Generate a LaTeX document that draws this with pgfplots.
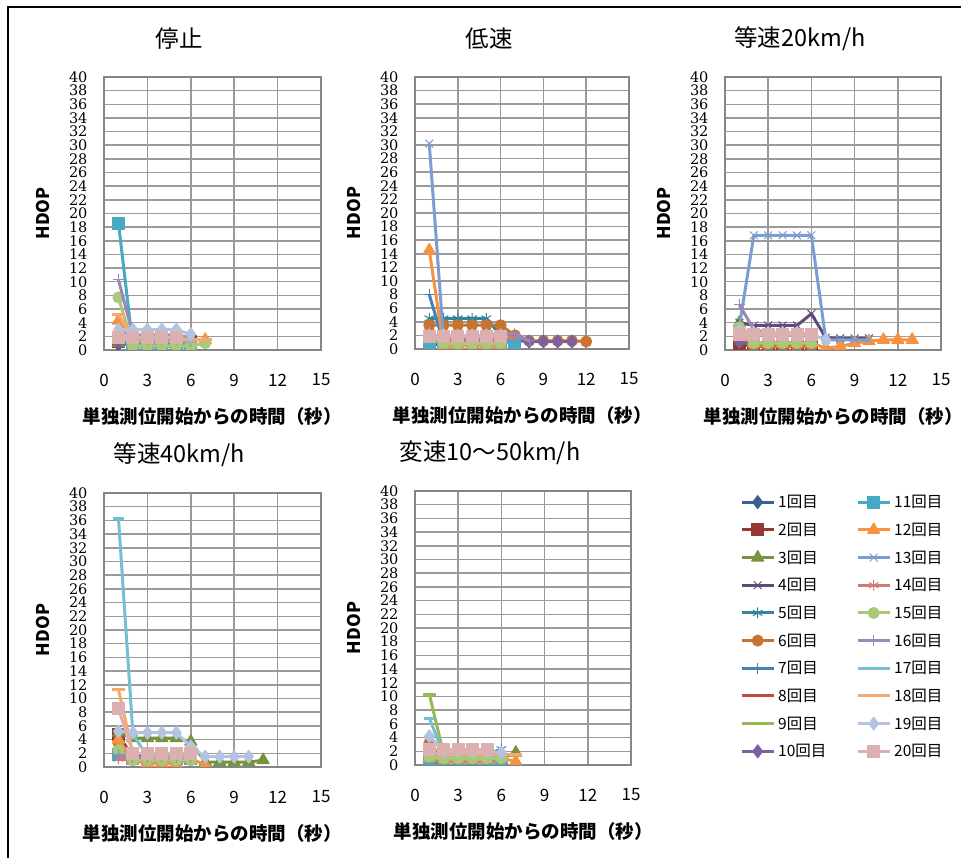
\documentclass[border=0pt]{standalone}
\usepackage{pgfplots}
\pgfplotsset{compat=1.18}
\usepackage{fontspec}
\setmainfont{Noto Sans CJK JP}
\newfontfamily\numserif{DejaVu Serif}
\definecolor{c1}{HTML}{3B5F91}
\definecolor{c2}{HTML}{953735}
\definecolor{c3}{HTML}{77933C}
\definecolor{c4}{HTML}{604A7B}
\definecolor{c5}{HTML}{31859C}
\definecolor{c6}{HTML}{C8732F}
\definecolor{c7}{HTML}{4A7EBB}
\definecolor{c8}{HTML}{BE4B48}
\definecolor{c9}{HTML}{98B954}
\definecolor{c10}{HTML}{7D60A0}
\definecolor{c11}{HTML}{46AAC5}
\definecolor{c12}{HTML}{F69240}
\definecolor{c13}{HTML}{7C9DD1}
\definecolor{c14}{HTML}{D17A78}
\definecolor{c15}{HTML}{A9C878}
\definecolor{c16}{HTML}{9A88B6}
\definecolor{c17}{HTML}{75BFD4}
\definecolor{c18}{HTML}{F9A86D}
\definecolor{c19}{HTML}{B3C3E0}
\definecolor{c20}{HTML}{DDB0B0}
\definecolor{gridc}{HTML}{9A9A9A}
\definecolor{framec}{HTML}{858585}
\pgfplotsset{
  base/.style={line width=3pt, line join=round, mark options={solid, line width=1pt}},
  s1/.style={base, color=c1, mark=diamond*, mark size=6.5pt},
  s2/.style={base, color=c2, mark=square*, mark size=6pt},
  s3/.style={base, color=c3, mark=triangle*, mark size=7pt},
  s4/.style={base, color=c4, mark=x, mark size=5.5pt},
  s5/.style={base, color=c5, mark=asterisk, mark size=5.5pt},
  s6/.style={base, color=c6, mark=*, mark size=5.5pt},
  s7/.style={base, color=c7, mark=+, mark size=5.5pt},
  s8/.style={base, color=c8, mark=-, mark size=5.5pt, mark options={solid, line width=3pt}},
  s9/.style={base, color=c9, mark=-, mark size=6.5pt, mark options={solid, line width=3pt}},
  s10/.style={base, color=c10, mark=diamond*, mark size=6.5pt},
  s11/.style={base, color=c11, mark=square*, mark size=6pt},
  s12/.style={base, color=c12, mark=triangle*, mark size=7pt},
  s13/.style={base, color=c13, mark=x, mark size=5.5pt},
  s14/.style={base, color=c14, mark=asterisk, mark size=5.5pt},
  s15/.style={base, color=c15, mark=*, mark size=5.5pt},
  s16/.style={base, color=c16, mark=+, mark size=5.5pt},
  s17/.style={base, color=c17, mark=-, mark size=5.5pt, mark options={solid, line width=3pt}},
  s18/.style={base, color=c18, mark=-, mark size=6.5pt, mark options={solid, line width=3pt}},
  s19/.style={base, color=c19, mark=diamond*, mark size=6.5pt},
  s20/.style={base, color=c20, mark=square*, mark size=6pt},
  panel/.style={
    scale only axis, anchor=south west,
    xmin=0, xmax=15, ymin=0, ymax=40,
    xtick={0,3,6,9,12,15}, ytick={0,2,...,40},
    grid=major, major grid style={draw=gridc, line width=1.5pt},
    axis line style={draw=framec, line width=1.9pt},
    tick style={draw=none},
    /pgf/number format/assume math mode=true,
    yticklabel style={font=\numserif\fontsize{14.5}{14.5}\selectfont, xshift=-13pt},
    xticklabel style={font=\fontsize{17}{17}\selectfont, anchor=center, yshift=-30pt},
    title style={at={(axis description cs:0.347,1)}, anchor=center, yshift=32pt, font=\fontsize{23.5}{23.5}\selectfont},
    xlabel={単独測位開始からの時間（秒）},
    xlabel style={at={(axis description cs:0.5,0)}, anchor=center, yshift=-66pt, font=\bfseries\fontsize{18.5}{18.5}\selectfont},
    ylabel={HDOP},
    ylabel style={at={(axis description cs:-0.283,0.5)}, anchor=center, font=\bfseries\fontsize{17.5}{17.5}\selectfont},
    clip marker paths=true,
  },
  legax/.style={
    hide axis, scale only axis, width=10pt, height=10pt, anchor=south west,
    xmin=0, xmax=1, ymin=0, ymax=1,
    legend style={at={(axis description cs:0,0)}, anchor=north west, draw=none, fill=none,
      inner sep=0pt, column sep=3pt, row sep=13.8pt, font=\fontsize{15.5}{15.5}\selectfont,
      nodes={inner sep=0pt}},
    legend cell align=left,
    legend image code/.code={\draw[mark repeat=2, mark phase=2] plot coordinates {(0pt,0pt) (16pt,0pt) (32pt,0pt)};},
  },
}
\begin{document}
\begin{tikzpicture}
\path[use as bounding box] (0pt,0pt) rectangle (961pt,858pt);
\draw[line width=1.5pt] (8pt,0pt) -- (8pt,851pt) -- (961pt,851pt);

% ---------- Panel 1: 停止 ----------
\begin{axis}[panel, at={(104pt,508pt)}, width=217pt, height=273pt, title={停止}]
\addplot[s1] coordinates {(1,0.8)(2,1)(3,1)(4,1)(5,1)(6,1)};
\addplot[s2] coordinates {(1,1.3)(2,1.3)(3,1.3)(4,1.3)(5,1.3)(6,1.3)};
\addplot[s3] coordinates {(1,1.0)(2,0.8)(3,0.8)(4,0.8)(5,0.8)(6,0.8)};
\addplot[s4] coordinates {(1,3.6)(2,1.5)(3,1.5)(4,1.5)(5,1.5)(6,1.5)};
\addplot[s5] coordinates {(1,1.2)(2,0.8)(3,0.8)(4,0.8)(5,0.8)(6,0.8)};
\addplot[s6] coordinates {(1,1.5)(2,1.2)(3,1.2)(4,1.2)(5,1.2)(6,1.2)};
\addplot[s7] coordinates {(1,1.0)(2,1.0)(3,1.0)(4,1.0)(5,1.0)(6,1.0)};
\addplot[s8] coordinates {(1,1.5)(2,1.5)(3,1.5)(4,1.5)(5,1.5)(6,1.5)};
\addplot[s9] coordinates {(1,1.2)(2,1.2)(3,1.2)(4,1.2)(5,1.2)(6,1.2)};
\addplot[s10] coordinates {(1,1.2)(2,1.2)(3,1.2)(4,1.2)(5,1.2)(6,1.2)};
\addplot[s11] coordinates {(1,18.6)(2,0.5)(3,0.5)(4,0.5)(5,0.5)(6,0.5)};
\addplot[s12] coordinates {(1,4.3)(2,1.5)(3,1.5)(4,1.5)(5,1.5)(6,1.5)(7,1.5)};
\addplot[s13] coordinates {(1,2.5)(2,2.2)(3,2.2)(4,2.2)(5,2.2)(6,1.8)};
\addplot[s14] coordinates {(1,2.0)(2,1.2)(3,1.2)(4,1.2)(5,1.2)(6,1.2)};
\addplot[s15] coordinates {(1,7.7)(2,0.6)(3,0.6)(4,0.6)(5,0.6)(6,0.6)(7,1.0)};
\addplot[s16] coordinates {(1,10.3)(2,2.2)(3,1.5)(4,1.5)(5,1.5)(6,1.3)};
\addplot[s17] coordinates {(1,1.5)(2,1.3)(3,1.3)(4,1.3)(5,1.3)(6,1.3)};
\addplot[s18] coordinates {(1,5.2)(2,1.8)(3,1.8)(4,1.8)(5,1.8)(6,1.5)(7,1.5)};
\addplot[s19] coordinates {(1,3.0)(2,3.0)(3,3.0)(4,3.0)(5,3.0)(6,2.3)};
\addplot[s20] coordinates {(1,1.8)(2,1.8)(3,1.8)(4,1.8)(5,1.8)};
\end{axis}

% ---------- Panel 2: 低速 ----------
\begin{axis}[panel, at={(415pt,509pt)}, width=214pt, height=272pt, title={低速}]
\addplot[s1] coordinates {(1,0.3)(2,1.0)(3,1.0)(4,1.0)(5,1.0)(6,1.0)};
\addplot[s2] coordinates {(1,1.3)(2,1.3)(3,1.3)(4,1.3)(5,1.3)(6,1.3)};
\addplot[s3] coordinates {(1,1.5)(2,1.0)(3,1.0)(4,1.0)(5,1.0)(6,1.0)};
\addplot[s4] coordinates {(1,2.0)(2,1.5)(3,1.5)(4,1.5)(5,1.5)(6,1.5)};
\addplot[s5] coordinates {(1,4.5)(2,4.5)(3,4.5)(4,4.5)(5,4.5)(6,2.0)(7,1.0)};
\addplot[s6] coordinates {(1,3.5)(2,3.5)(3,3.5)(4,3.5)(5,3.5)(6,3.5)(7,2.0)(8,1.2)(9,1.2)(10,1.2)(11,1.2)(12,1.1)};
\addplot[s7] coordinates {(1,8.0)(2,1.0)(3,1.0)(4,1.0)(5,1.0)(6,1.0)};
\addplot[s8] coordinates {(1,1.2)(2,1.2)(3,1.2)(4,1.2)(5,1.2)(6,1.2)};
\addplot[s9] coordinates {(1,1.4)(2,1.4)(3,1.4)(4,1.4)(5,1.4)(6,1.4)};
\addplot[s10] coordinates {(1,1.2)(2,1.2)(3,1.2)(4,1.2)(5,1.2)(6,1.2)(7,1.2)(8,1.1)(9,1.1)(10,1.1)(11,1.1)};
\addplot[s11] coordinates {(1,1.0)(2,1.0)(3,1.0)(4,1.0)(5,1.0)(6,1.0)(7,1.0)};
\addplot[s12] coordinates {(1,14.5)(2,0.5)(3,0.5)(4,0.5)(5,0.5)(6,0.5)};
\addplot[s13] coordinates {(1,30.2)(2,1.5)(3,1.5)(4,1.5)(5,1.5)(6,1.5)};
\addplot[s14] coordinates {(1,2.5)(2,1.5)(3,1.5)(4,1.5)(5,1.5)(6,1.5)(7,1.7)};
\addplot[s15] coordinates {(1,2.0)(2,0.8)(3,0.8)(4,0.8)(5,0.8)(6,0.8)};
\addplot[s16] coordinates {(1,2.0)(2,2.0)(3,2.0)(4,2.0)(5,2.0)(6,2.2)(7,2.3)(8,1.2)};
\addplot[s19] coordinates {(1,2.0)(2,2.0)(3,2.0)(4,2.0)(5,2.0)(6,2.0)};
\addplot[s20] coordinates {(1,1.8)(2,1.8)(3,1.8)(4,1.8)(5,1.8)(6,1.8)};
\end{axis}

% ---------- Panel 3: 等速20km/h ----------
\begin{axis}[panel, at={(725pt,508pt)}, width=216pt, height=273pt, title={等速20km/h}]
\addplot[s1] coordinates {(1,0.8)(2,0.6)(3,0.6)(4,0.6)(5,0.6)(6,0.6)};
\addplot[s2] coordinates {(1,1.0)(2,0.8)(3,0.8)(4,0.8)(5,0.8)(6,0.8)};
\addplot[s3] coordinates {(1,4.0)(2,1.0)(3,1.0)(4,1.0)(5,1.0)(6,1.0)};
\addplot[s4] coordinates {(1,4.0)(2,3.6)(3,3.6)(4,3.6)(5,3.6)(6,5.3)(7,1.8)(8,1.7)(9,1.7)(10,1.7)};
\addplot[s5] coordinates {(1,1.2)(2,0.9)(3,0.9)(4,0.9)(5,0.9)(6,0.9)};
\addplot[s6] coordinates {(1,1.5)(2,0.5)(3,0.5)(4,0.5)(5,0.5)(6,0.5)};
\addplot[s10] coordinates {(1,1.2)(2,1.0)(3,1.0)(4,1.0)(5,1.0)(6,1.0)};
\addplot[s12] coordinates {(1,2.0)(2,1.0)(3,1.0)(4,1.0)(5,1.0)(6,1.0)(7,0.3)(8,0.5)(9,1.0)(10,1.3)(11,1.5)(12,1.5)(13,1.5)};
\addplot[s13] coordinates {(1,3.5)(2,16.8)(3,16.8)(4,16.8)(5,16.8)(6,16.8)(7,1.5)(8,1.5)(9,1.5)(10,1.5)};
\addplot[s15] coordinates {(1,3.3)(2,1.0)(3,1.0)(4,1.0)(5,1.0)(6,1.0)};
\addplot[s16] coordinates {(1,6.6)(2,3.0)(3,2.5)(4,2.5)(5,2.5)(6,2.0)};
\addplot[s19] coordinates {(1,2.8)(2,2.5)(3,2.5)(4,2.5)(5,2.5)(6,2.3)(7,1.5)};
\addplot[s20] coordinates {(1,2.3)(2,2.3)(3,2.3)(4,2.3)(5,2.3)(6,2.3)};
\end{axis}

% ---------- Panel 4: 等速40km/h ----------
\begin{axis}[panel, at={(104pt,91pt)}, width=217pt, height=274pt, title={等速40km/h}]
\addplot[s1] coordinates {(1,4.5)(2,1.5)(3,1.5)(4,1.5)(5,1.5)(6,1.2)};
\addplot[s2] coordinates {(1,4.8)(2,1.2)(3,1.2)(4,1.2)(5,1.2)(6,1.2)};
\addplot[s3] coordinates {(1,5.0)(2,4.2)(3,4.2)(4,4.2)(5,4.2)(6,3.7)(7,0.7)(8,0.7)(9,0.7)(10,0.7)(11,1.0)};
\addplot[s4] coordinates {(1,1.5)(2,1.3)(3,1.3)(4,1.3)(5,1.3)(6,1.3)};
\addplot[s6] coordinates {(1,3.5)(2,1.0)(3,1.0)(4,1.0)(5,1.0)(6,1.0)};
\addplot[s11] coordinates {(1,1.8)(2,1.2)(3,1.2)(4,1.2)(5,1.2)(6,1.2)};
\addplot[s12] coordinates {(1,4.0)(2,1.0)(3,0.5)(4,0.5)(5,0.5)(6,1.2)(7,0.3)};
\addplot[s14] coordinates {(1,1.2)(2,1.0)(3,1.0)(4,1.0)(5,1.0)(6,1.0)};
\addplot[s15] coordinates {(1,2.5)(2,1.0)(3,1.0)(4,1.0)(5,1.0)(6,1.0)};
\addplot[s16] coordinates {(1,1.8)(2,1.4)(3,1.4)(4,1.4)(5,1.4)(6,1.4)};
\addplot[s17] coordinates {(1,36.3)(2,4.8)(3,1.5)(4,1.5)(5,1.5)(6,1.5)};
\addplot[s18] coordinates {(1,11.3)(2,2.0)(3,2.0)(4,2.0)(5,2.0)(6,2.0)};
\addplot[s19] coordinates {(1,5.2)(2,5.0)(3,5.0)(4,5.0)(5,5.0)(6,3.0)(7,1.5)(8,1.5)(9,1.5)(10,1.5)};
\addplot[s20] coordinates {(1,8.5)(2,2.0)(3,2.0)(4,2.0)(5,2.0)(6,2.0)};
\end{axis}

% ---------- Panel 5: 変速10～50km/h ----------
\begin{axis}[panel, at={(415pt,93pt)}, width=216pt, height=274pt, title={変速10～50km/h}]
\addplot[s2] coordinates {(1,0.3)(2,0.5)(3,0.5)(4,0.5)(5,0.5)(6,0.5)};
\addplot[s3] coordinates {(1,1.0)(2,1.0)(3,1.0)(4,1.0)(5,1.0)(6,1.0)(7,1.8)};
\addplot[s5] coordinates {(1,1.5)(2,1.5)(3,1.5)(4,1.5)(5,1.5)(6,2.3)};
\addplot[s6] coordinates {(1,3.2)(2,0.5)(3,0.5)(4,0.5)(5,0.5)(6,0.5)};
\addplot[s9] coordinates {(1,10.3)(2,1.5)(3,1.5)(4,1.5)(5,1.5)(6,1.5)};
\addplot[s11] coordinates {(1,0.8)(2,0.5)(3,0.5)(4,0.5)(5,0.5)(6,0.5)};
\addplot[s12] coordinates {(1,1.0)(2,0.8)(3,0.8)(4,0.8)(5,0.8)(6,1.0)(7,0.5)};
\addplot[s15] coordinates {(1,1.2)(2,1.0)(3,1.0)(4,1.0)(5,1.0)(6,1.0)};
\addplot[s17] coordinates {(1,6.8)(2,1.5)(3,1.5)(4,1.5)(5,1.5)(6,1.5)};
\addplot[s18] coordinates {(1,1.8)(2,1.5)(3,1.5)(4,1.5)(5,1.5)(6,1.5)(7,1.5)};
\addplot[s19] coordinates {(1,4.2)(2,2.0)(3,2.0)(4,2.0)(5,2.0)(6,1.8)};
\addplot[s20] coordinates {(1,2.3)(2,2.3)(3,2.3)(4,2.3)(5,2.3)};
\end{axis}

% ---------- Legend ----------
\begin{axis}[legax, at={(740pt,363pt)}]
\addlegendimage{s1}\addlegendentry{1回目}
\addlegendimage{s2}\addlegendentry{2回目}
\addlegendimage{s3}\addlegendentry{3回目}
\addlegendimage{s4}\addlegendentry{4回目}
\addlegendimage{s5}\addlegendentry{5回目}
\addlegendimage{s6}\addlegendentry{6回目}
\addlegendimage{s7}\addlegendentry{7回目}
\addlegendimage{s8}\addlegendentry{8回目}
\addlegendimage{s9}\addlegendentry{9回目}
\addlegendimage{s10}\addlegendentry{10回目}
\end{axis}
\begin{axis}[legax, at={(856pt,363pt)}]
\addlegendimage{s11}\addlegendentry{11回目}
\addlegendimage{s12}\addlegendentry{12回目}
\addlegendimage{s13}\addlegendentry{13回目}
\addlegendimage{s14}\addlegendentry{14回目}
\addlegendimage{s15}\addlegendentry{15回目}
\addlegendimage{s16}\addlegendentry{16回目}
\addlegendimage{s17}\addlegendentry{17回目}
\addlegendimage{s18}\addlegendentry{18回目}
\addlegendimage{s19}\addlegendentry{19回目}
\addlegendimage{s20}\addlegendentry{20回目}
\end{axis}
\end{tikzpicture}
\end{document}
